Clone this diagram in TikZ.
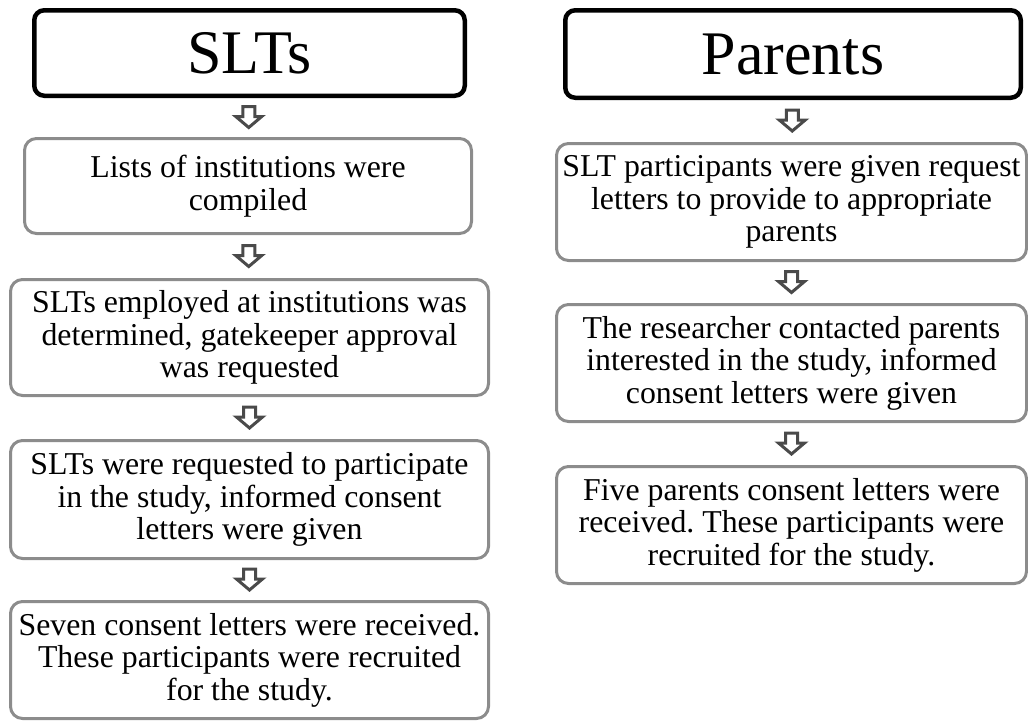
\documentclass[tikz,border=0pt]{standalone}
\usepackage{fontspec}
\setmainfont{Liberation Serif}
\usetikzlibrary{calc}
\frenchspacing
\definecolor{boxgray}{HTML}{8C8C8C}
\definecolor{arrowgray}{HTML}{4A4A4A}
\tikzset{
  titlebox/.style={draw=black, line width=4.5pt, rounded corners=10pt, fill=white,
    inner sep=0pt, align=center, font=\fontsize{62}{68}\selectfont},
  stepbox/.style={draw=boxgray, line width=3pt, rounded corners=12pt, fill=white,
    inner sep=0pt, align=center, font=\fontsize{31.8}{32.5}\selectfont},
  blockarrow/.pic={
    \draw[arrowgray, fill=white, line width=3pt, line join=miter]
      (-6,-11) -- (6,-11) -- (6,-1) -- (13,-1) -- (0,10) -- (-13,-1) -- (-6,-1) -- cycle;
  }
}
\begin{document}
\begin{tikzpicture}[x=1pt, y=-1pt]
\useasboundingbox (0,0) rectangle (1028,721);
% left column
\node[titlebox, minimum width=430.5pt, minimum height=85.5pt] (lt) at (249.5,53) {SLTs};
\node[stepbox, minimum width=447pt, minimum height=95pt] (l1) at (248,186)
  {Lists of institutions were\\compiled};
\node[stepbox, minimum width=478pt, minimum height=116pt] (l2) at (249.5,337.5)
  {SLTs employed at institutions was\\determined, gatekeeper approval\\was requested};
\node[stepbox, minimum width=478pt, minimum height=118pt] (l3) at (249.5,499.5)
  {SLTs were requested to participate\\in the study, informed consent\\letters were given};
\node[stepbox, minimum width=478pt, minimum height=117pt] (l4) at (249.5,660)
  {Seven consent letters were received.\\These participants were recruited\\for the study.};
% right column
\node[titlebox, minimum width=455.5pt, minimum height=87.5pt] (rt) at (793,54) {Parents};
\node[stepbox, minimum width=470pt, minimum height=117pt] (r1) at (791.5,202)
  {SLT participants were given request\\letters to provide to appropriate\\parents};
\node[stepbox, minimum width=470pt, minimum height=117pt] (r2) at (791.5,363)
  {The researcher contacted parents\\interested in the study, informed\\consent letters were given};
\node[stepbox, minimum width=470pt, minimum height=117pt] (r3) at (791.5,525)
  {Five parents consent letters were\\received. These participants were\\recruited for the study.};
% arrows
\pic at ($(lt.south)!0.5!(l1.north)$) {blockarrow};
\pic at ($(l1.south)!0.5!(l2.north)$) {blockarrow};
\pic at ($(l2.south)!0.5!(l3.north)$) {blockarrow};
\pic at ($(l3.south)!0.5!(l4.north)$) {blockarrow};
\pic at ($(rt.south)!0.5!(r1.north)$) {blockarrow};
\pic at ($(r1.south)!0.5!(r2.north)$) {blockarrow};
\pic at ($(r2.south)!0.5!(r3.north)$) {blockarrow};
\end{tikzpicture}
\end{document}
